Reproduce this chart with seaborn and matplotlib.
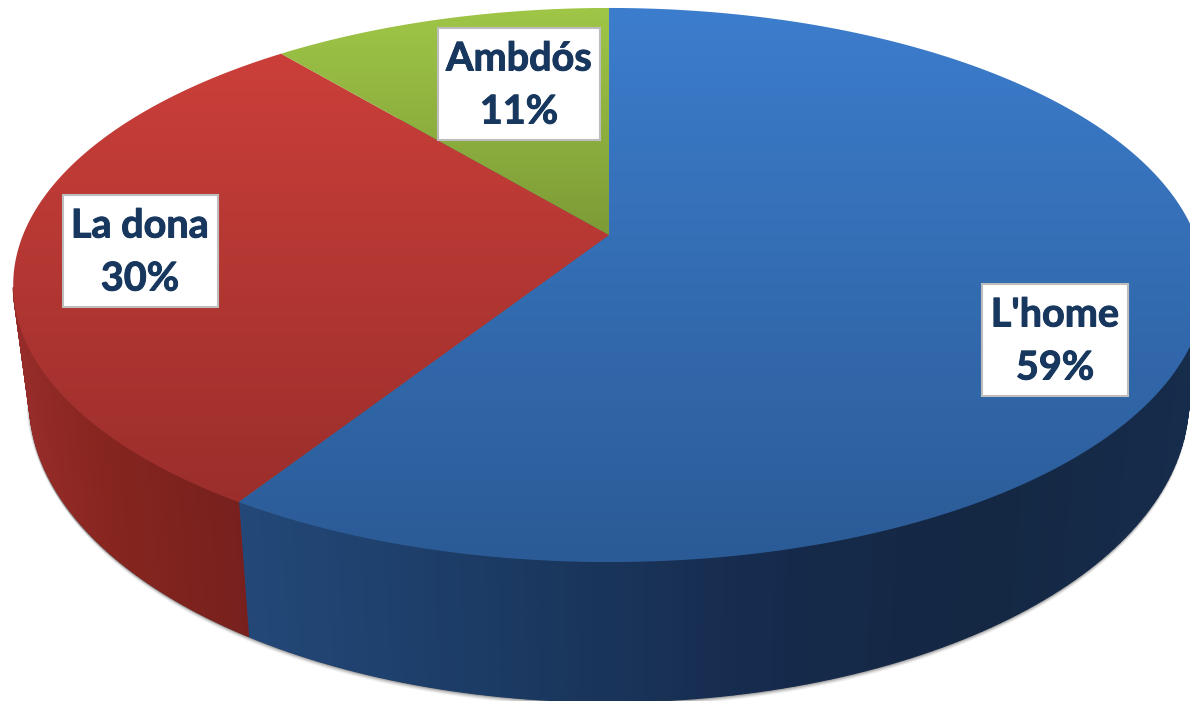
import numpy as np
import matplotlib
matplotlib.use("Agg")
import matplotlib.pyplot as plt
import matplotlib.patheffects as pe
from matplotlib.collections import PolyCollection
from matplotlib.colors import to_rgb
from matplotlib.patches import Polygon
import seaborn as sns

# --- data ---
categories = ["L'home", "La dona", "Ambdós"]
values = [59, 30, 11]

# --- style ---
top_stops = [["#3c7dcd", "#2b5b96"], ["#cb3f3a", "#9b2e2b"], ["#9fc647", "#7d9b36"]]
wall_stops = [
    [(240, "#234878"), (500, "#1b3a63"), (800, "#15294a"), (1000, "#142843"), (1200, "#162c4c")],
    [(20, "#962c29"), (100, "#87251f"), (250, "#76201e")],
    [(280, "#7d9b36"), (610, "#7d9b36")],
]
label_boxes = [(1055, 340), (140, 251), (519, 84)]
TEXT = "#17375e"

sns.set_theme(style="white")
plt.rcParams["font.family"] = ["Lato", "DejaVu Sans"]

W, H = 1190, 701
fig = plt.figure(figsize=(W / 100, H / 100), dpi=100, facecolor="white")
ax = fig.add_axes([0, 0, 1, 1])
ax.set_axis_off()

# perspective projection of the unit disc onto the picture
K, A, B, CX, CY = -0.1805, 586.0, 225.6, 609.0, 235.0


def project(x, y):
    d = 1 + K * y
    return CX + A * x / d, (CY + B * y) / d


def extrude(X, Y):
    return CX + (X - CX) * 0.973, 400 + (Y - 285) * 1.09


def arc(a0, a1, n=240):
    t = np.linspace(a0, a1, n)
    return project(np.sin(t), -np.cos(t))


fracs = np.array(values) / sum(values)
edges = np.concatenate([[0], np.cumsum(fracs)]) * 2 * np.pi

# soft shadow under the body
sx, sy = arc(0, 2 * np.pi, 400)
bx, by = extrude(sx, sy)
for off, alpha in zip([5, 4, 3, 2, 1], [0.05, 0.08, 0.12, 0.16, 0.22]):
    ax.add_patch(Polygon(np.c_[bx, by + off], closed=True, fc="#303030", ec="none", alpha=alpha, zorder=1))
    ax.add_patch(Polygon(np.c_[bx - off * 0.6, by], closed=True, fc="#303030", ec="none", alpha=alpha, zorder=1))

# side walls (only the part in front of the top face)
for i in range(len(values)):
    X, Y = arc(edges[i], edges[i + 1], 200)
    X2, Y2 = extrude(X, Y)
    idx = [j for j in range(len(X) - 1) if Y[j] >= 285 and Y[j + 1] >= 285]
    if not idx:
        continue
    quads = [[(X[j], Y[j]), (X[j + 1], Y[j + 1]), (X2[j + 1], Y2[j + 1]), (X2[j], Y2[j])] for j in idx]
    px = [s[0] for s in wall_stops[i]]
    rgb = np.array([to_rgb(s[1]) for s in wall_stops[i]])
    mid = (X[idx] + X[np.array(idx) + 1]) / 2
    cols = np.c_[[np.interp(mid, px, rgb[:, c]) for c in range(3)]].T
    ax.add_collection(PolyCollection(quads, facecolors=cols, edgecolors=cols, linewidths=0.8, zorder=2))

# top face
for i in range(len(values)):
    X, Y = arc(edges[i], edges[i + 1])
    verts = np.r_[[[CX, CY]], np.c_[X, Y]]
    y0, y1 = Y.min() if i != 2 else 8, max(Y.max(), CY)
    c0, c1 = map(np.array, map(to_rgb, top_stops[i]))
    grad = np.linspace(0, 1, 256)[:, None, None] * (c1 - c0) + c0
    im = ax.imshow(grad, extent=(verts[:, 0].min(), verts[:, 0].max(), y1, y0), aspect="auto", zorder=3, interpolation="bilinear")
    patch = Polygon(verts, closed=True, transform=ax.transData, fc="none", ec="none")
    ax.add_patch(patch)
    im.set_clip_path(patch)

# labels
boxes = [(146, 112), (155, 112), (162, 112)]
stroke = [pe.withStroke(linewidth=0.7, foreground=TEXT)]
for name, v, (x, y), (bw, bh) in zip(categories, values, label_boxes, boxes):
    ax.add_patch(plt.Rectangle((x - bw / 2, y - bh / 2), bw, bh, fc="white", ec="#bdbdbd", lw=1.5, zorder=4))
    ax.text(x, y - 25, name, ha="center", va="center", fontsize=28.5, fontweight="bold", color=TEXT, zorder=5, path_effects=stroke)
    ax.text(x, y + 28, f"{v}%", ha="center", va="center", fontsize=28.5, fontweight="bold", color=TEXT, zorder=5, path_effects=stroke)

ax.set_xlim(0, W)
ax.set_ylim(H, 0)
fig.savefig("out.png", dpi=100, facecolor="white")
